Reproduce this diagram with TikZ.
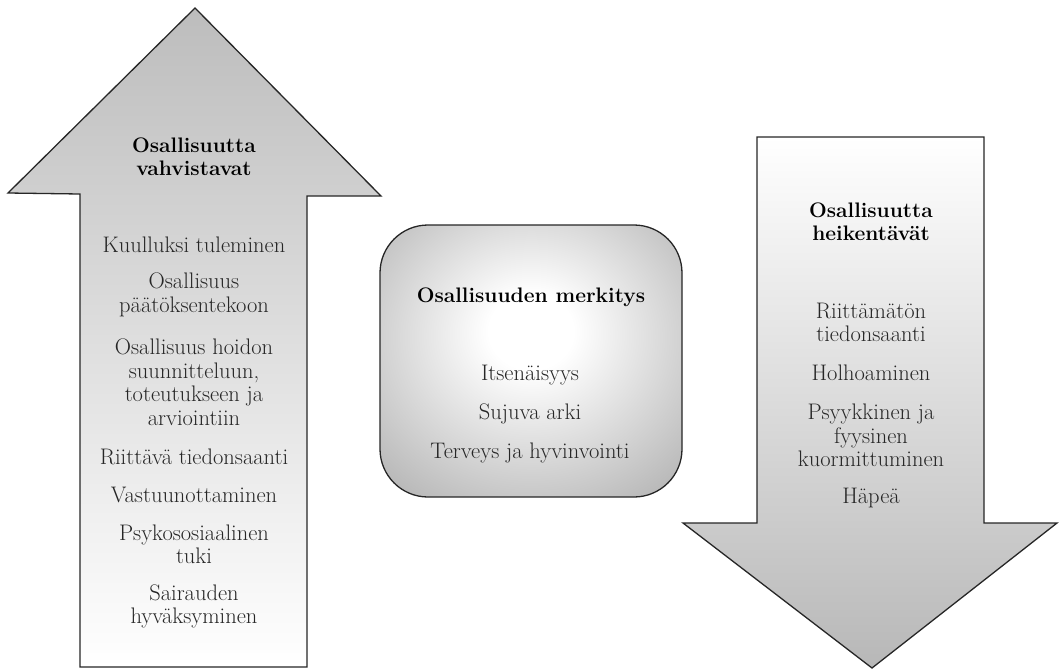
\documentclass[tikz,border=0pt]{standalone}
\usepackage{fontspec}
\usetikzlibrary{shadings}
\pgfdeclareradialshading{boxglow}{\pgfpoint{0bp}{6bp}}{color(0bp)=(white); color(7bp)=(white); color(40bp)=(black!33); color(58bp)=(black!48); color(80bp)=(black!55)}
\tikzset{
  arrowshape/.style={draw=black!85, line width=1.3pt, line join=miter},
  item/.style={align=center, inner sep=0pt, text=black!85, font=\fontsize{22.5}{23.5}\selectfont\addfontfeatures{LetterSpace=10}},
  heading/.style={align=center, inner sep=0pt, text=black, font=\fontsize{21}{23}\selectfont\bfseries},
}
\begin{document}
\begin{tikzpicture}[x=1pt, y=-1pt]
\useasboundingbox (0,0) rectangle (1063,670);

% upward arrow
\path[arrowshape, top color=black!26, bottom color=white]
  (195,8) -- (381,196) -- (307,196) -- (307,667) -- (80,667) -- (80,194) -- (8,193) -- cycle;

% downward arrow
\path[arrowshape, top color=white, bottom color=black!28]
  (757,137) -- (984,137) -- (984,523) -- (1057,523) -- (872,668) -- (683,523) -- (757,523) -- cycle;

% central rounded box
\path[draw=black!85, line width=1.3pt, rounded corners=48pt, shading=boxglow]
  (380,225) rectangle (682,497);

% left arrow texts
\node[heading] (lh) at (194,156.5) {Osallisuutta\\vahvistavat};
\node[item] (l1) at (194,245) {Kuulluksi tuleminen};
\node[item] (l2) at (194,295) {Osallisuus\\päätöksentekoon};
\node[item] (l3) at (194,382) {Osallisuus hoidon\\suunnitteluun,\\toteutukseen ja\\arviointiin};
\node[item] (l4) at (194,457) {Riittävä tiedonsaanti};
\node[item] (l5) at (194,495) {Vastuunottaminen};
\node[item] (l6) at (194,544.5) {Psykososiaalinen\\tuki};
\node[item] (l7) at (194,606.5) {Sairauden\\hyväksyminen};

% centre box texts
\node[heading] (ch) at (531,297) {Osallisuuden merkitys};
\node[item] (c1) at (530,375) {Itsenäisyys};
\node[item] (c2) at (530,414) {Sujuva arki};
\node[item] (c3) at (530,453) {Terveys ja hyvinvointi};

% right arrow texts
\node[heading] (rh) at (871,222) {Osallisuutta\\heikentävät};
\node[item] (r1) at (871,322.5) {Riittämätön\\tiedonsaanti};
\node[item] (r2) at (871,373) {Holhoaminen};
\node[item] (r3) at (871,435.5) {Psyykkinen ja\\fyysinen\\kuormittuminen};
\node[item] (r4) at (871,498) {Häpeä};
\end{tikzpicture}
\end{document}
